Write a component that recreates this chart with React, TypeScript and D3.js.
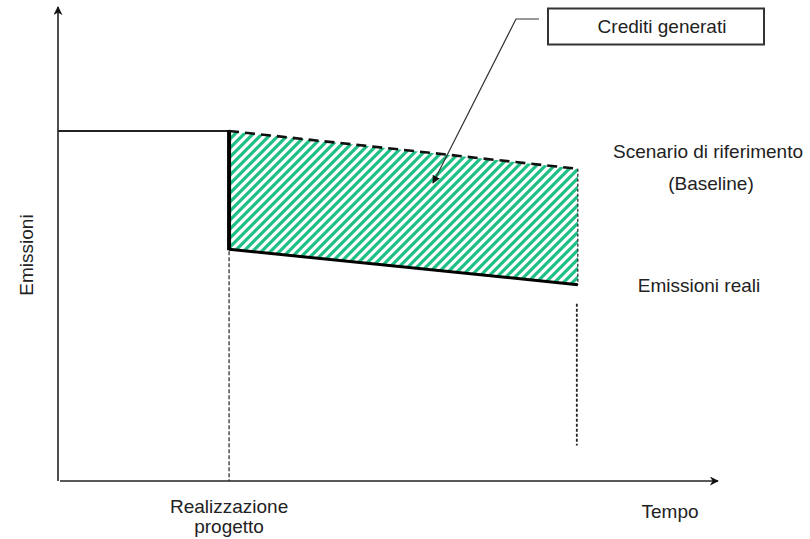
import React from "react";
import * as d3 from "d3";

// Time positions (arbitrary units): start, project realization, end of crediting period
const phaseTimes = [0, 26, 79];
// Baseline scenario emissions at each phase time
const baselineEmissions = [74, 74, 66];
// Actual emissions after project realization (at project time and end)
const actualEmissions = [49, 41.5];
// Guide line on the right (emission units)
const endGuide = [37.5, 7.5];

const xLabel = "Tempo";
const yLabel = "Emissioni";
const projectLabel = ["Realizzazione", "progetto"];
const baselineLabel = ["Scenario di riferimento", "(Baseline)"];
const actualLabel = "Emissioni reali";
const creditsLabel = "Crediti generati";

const W = 810;
const H = 539;
const FONT = "Arial, 'Liberation Sans', sans-serif";
const GREEN = "#1fc084";

export default function App() {
  const x = d3.scaleLinear().domain([0, 100]).range([58, 716]);
  const y = d3.scaleLinear().domain([0, 100]).range([481, 8]);

  const [t0, tP, tE] = phaseTimes;
  const line = d3.line<[number, number]>().x((d) => x(d[0])).y((d) => y(d[1]));

  const prePath = line([
    [t0, baselineEmissions[0]],
    [tP, baselineEmissions[1]],
  ]);
  const basePath = line([
    [tP, baselineEmissions[1]],
    [tE, baselineEmissions[2]],
  ]);
  const actualPath = line([
    [tP, actualEmissions[0]],
    [tE, actualEmissions[1]],
  ]);
  const areaPath =
    line([
      [tP, baselineEmissions[1]],
      [tE, baselineEmissions[2]],
      [tE, actualEmissions[1]],
      [tP, actualEmissions[0]],
    ]) + "Z";

  const xP = x(tP);
  const xE = x(tE);

  return (
    <svg
      width={W}
      height={H}
      style={{ position: "absolute", left: 0, top: 0, background: "#fff" }}
      fontFamily={FONT}
    >
      <defs>
        <pattern id="hatch" patternUnits="userSpaceOnUse" width="9" height="9">
          <path
            d="M-2,2 L2,-2 M0,9 L9,0 M7,11 L11,7"
            stroke={GREEN}
            strokeWidth="3.2"
          />
        </pattern>
        <marker
          id="arrow"
          viewBox="0 0 10 10"
          refX="9"
          refY="5"
          markerWidth="9"
          markerHeight="9"
          markerUnits="userSpaceOnUse"
          orient="auto"
        >
          <path d="M0,0 L10,5 L0,10 L3,5 Z" fill="#111" />
        </marker>
        <marker
          id="arrowSmall"
          viewBox="0 0 10 10"
          refX="9"
          refY="5"
          markerWidth="8"
          markerHeight="8"
          markerUnits="userSpaceOnUse"
          orient="auto"
        >
          <path d="M0,0 L10,5 L0,10 Z" fill="#111" />
        </marker>
      </defs>

      {/* axes */}
      <line x1={x(0)} y1={y(0)} x2={x(0)} y2={7} stroke="#222" strokeWidth={1.6} markerEnd="url(#arrow)" />
      <line x1={x(0) + 2} y1={y(0)} x2={718} y2={y(0)} stroke="#222" strokeWidth={1.6} markerEnd="url(#arrow)" />

      {/* hatched credits area */}
      <path d={areaPath} fill="url(#hatch)" />
      <line x1={xE} y1={y(baselineEmissions[2])} x2={xE} y2={y(actualEmissions[1])} stroke="#222" strokeWidth={1.2} strokeDasharray="3,2" />

      {/* pre-project emissions */}
      <path d={prePath!} fill="none" stroke="#222" strokeWidth={2} />
      {/* drop at project realization */}
      <line x1={xP} y1={y(baselineEmissions[1]) - 1} x2={xP} y2={y(actualEmissions[0]) + 1} stroke="#000" strokeWidth={4} />
      {/* baseline dashed */}
      <path d={basePath!} fill="none" stroke="#111" strokeWidth={2.6} strokeDasharray="10,6" />
      {/* actual emissions */}
      <path d={actualPath!} fill="none" stroke="#000" strokeWidth={3} />

      {/* guide lines */}
      <line x1={xP} y1={y(actualEmissions[0]) + 2} x2={xP} y2={y(0)} stroke="#222" strokeWidth={1.2} strokeDasharray="4,2" />
      <line x1={xE - 1} y1={y(endGuide[0])} x2={xE - 1} y2={y(endGuide[1])} stroke="#222" strokeWidth={1.8} strokeDasharray="3,2" />

      {/* labels */}
      <g fill="#222" fontSize={19}>
        <text x={33} y={255} textAnchor="middle" transform="rotate(-90 33 255)">
          {yLabel}
        </text>
        <text x={670} y={518} textAnchor="middle">{xLabel}</text>
        <text x={xP} y={513} textAnchor="middle">{projectLabel[0]}</text>
        <text x={xP} y={533} textAnchor="middle">{projectLabel[1]}</text>
        <text x={708} y={158} textAnchor="middle">{baselineLabel[0]}</text>
        <text x={711} y={190} textAnchor="middle">{baselineLabel[1]}</text>
        <text x={699} y={292} textAnchor="middle">{actualLabel}</text>
      </g>

      {/* callout */}
      <rect x={548} y={8.5} width={216} height={36} fill="#fff" stroke="#333" strokeWidth={2} />
      <text x={662} y={33} textAnchor="middle" fontSize={19} fill="#222">
        {creditsLabel}
      </text>
      <polyline
        points="539,19 516,19 433,183"
        fill="none"
        stroke="#333"
        strokeWidth={1.2}
        markerEnd="url(#arrowSmall)"
      />
    </svg>
  );
}
